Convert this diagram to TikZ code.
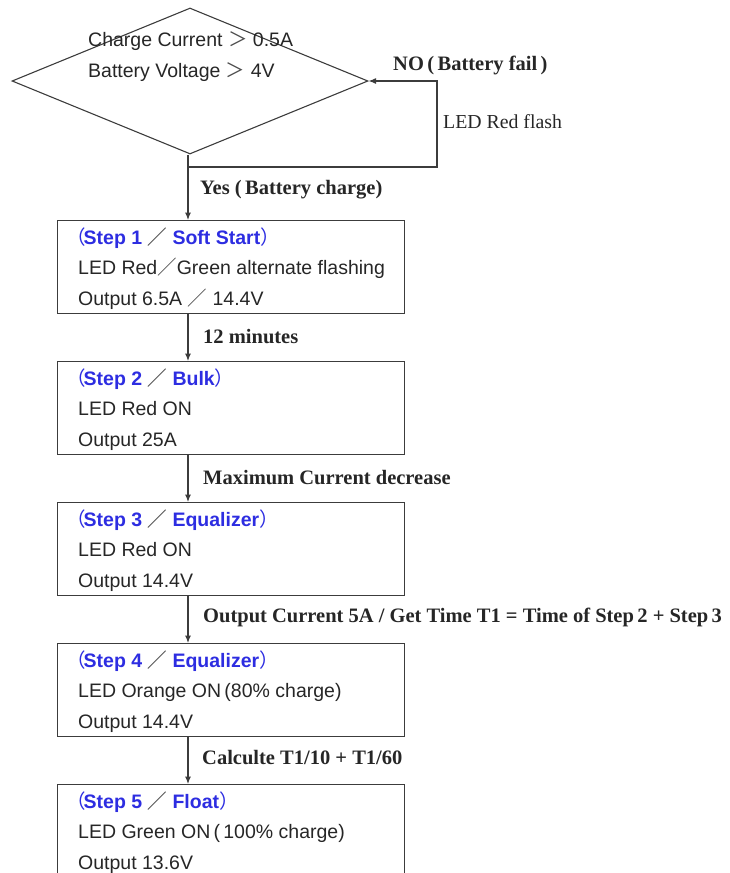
\documentclass[tikz,border=0pt]{standalone}
\usepackage{fontspec}
\setmainfont{Liberation Serif}
\setsansfont{Liberation Sans}
\newfontfamily\cjk{Noto Sans CJK SC}
\usetikzlibrary{arrows.meta,shapes.geometric}
\definecolor{stepblue}{RGB}{45,45,225}
\definecolor{linegrey}{RGB}{60,60,60}
\newcommand{\fsl}{{\cjk\color{black!70}／}}
\newcommand{\flp}{{\kern-12pt\cjk （}\kern-2pt}
\newcommand{\frp}{{\cjk ）}}
\newcommand{\fgt}{{\cjk\color{black!70}＞}}
\tikzset{
  x=1pt, y=-1pt,
  conn/.style={draw=linegrey, line width=1.1pt},
  arr/.style={conn, -{Latex[length=7.5pt,width=6pt]}},
  stepbox/.style={draw=linegrey, line width=1.1pt, minimum width=347pt, minimum height=93pt, inner sep=0pt, anchor=north west},
  boxtext/.style={anchor=base west, inner sep=0pt, align=left, font=\sffamily\fontsize{19.5}{30.5}\selectfont, text=black!85},
  lab/.style={anchor=west, inner sep=0pt, font=\bfseries\fontsize{20.5}{22}\selectfont, text=black!85},
  labr/.style={anchor=west, inner sep=0pt, font=\fontsize{19.8}{22}\selectfont, text=black!85}
}
\begin{document}
\begin{tikzpicture}
\useasboundingbox (0,0) rectangle (729,873);
\clip (0,0) rectangle (729,873);
% decision
\node[diamond, draw=linegrey, line width=1.1pt, minimum width=356pt, minimum height=146pt, inner sep=0pt] (dia) at (190,81) {};
\node[boxtext] (diatext) at (88,77) {Charge Current \fgt\ 0.5A\\Battery Voltage \fgt\ 4V};
% junction coordinates
\coordinate (j) at (188,167);
\coordinate (c1) at (437,167);
% step boxes
\node[stepbox] (s1) at (57,220) {};
\node[stepbox] (s2) at (57,361) {};
\node[stepbox] (s3) at (57,502) {};
\node[stepbox] (s4) at (57,643) {};
\node[stepbox] (s5) at (57,784) {};
\node[boxtext] (t1) at (78,305) {\textcolor{stepblue}{\flp\textbf{Step 1 \fsl\ Soft Start}\frp}\\LED Red\fsl Green alternate flashing\\Output 6.5A \fsl\ 14.4V};
\node[boxtext] (t2) at (78,446) {\textcolor{stepblue}{\flp\textbf{Step 2 \fsl\ Bulk}\frp}\\LED Red ON\\Output 25A};
\node[boxtext] (t3) at (78,587) {\textcolor{stepblue}{\flp\textbf{Step 3 \fsl\ Equalizer}\frp}\\LED Red ON\\Output 14.4V};
\node[boxtext] (t4) at (78,728) {\textcolor{stepblue}{\flp\textbf{Step 4 \fsl\ Equalizer}\frp}\\LED Orange ON\,(80\% charge)\\Output 14.4V};
\node[boxtext] (t5) at (78,869) {\textcolor{stepblue}{\flp\textbf{Step 5 \fsl\ Float}\frp}\\LED Green ON\,(\,100\% charge)\\Output 13.6V};
% connectors
\draw[conn] (dia.south -| j) -- (j);
\draw[arr] (j) -- (c1) |- (dia.east);
\draw[arr] (j) -- (s1.north -| j);
\draw[arr] (s1.south -| j) -- (s2.north -| j);
\draw[arr] (s2.south -| j) -- (s3.north -| j);
\draw[arr] (s3.south -| j) -- (s4.north -| j);
\draw[arr] (s4.south -| j) -- (s5.north -| j);
% labels
\node[lab] (lno) at (393,65) {NO\,(\,Battery fail\,)};
\node[labr] (lflash) at (443,122) {LED Red flash};
\node[lab] (lyes) at (200,190) {Yes (\,Battery charge)};
\node[lab] (l12) at (203,337) {12 minutes};
\node[lab] (lmax) at (203,478) {Maximum Current decrease};
\node[lab] (lout) at (203,617) {Output Current 5A / Get Time T1 = Time of Step\,2 + Step\,3};
\node[lab] (lcalc) at (202,758) {Calculte T1/10 + T1/60};
\end{tikzpicture}
\end{document}
